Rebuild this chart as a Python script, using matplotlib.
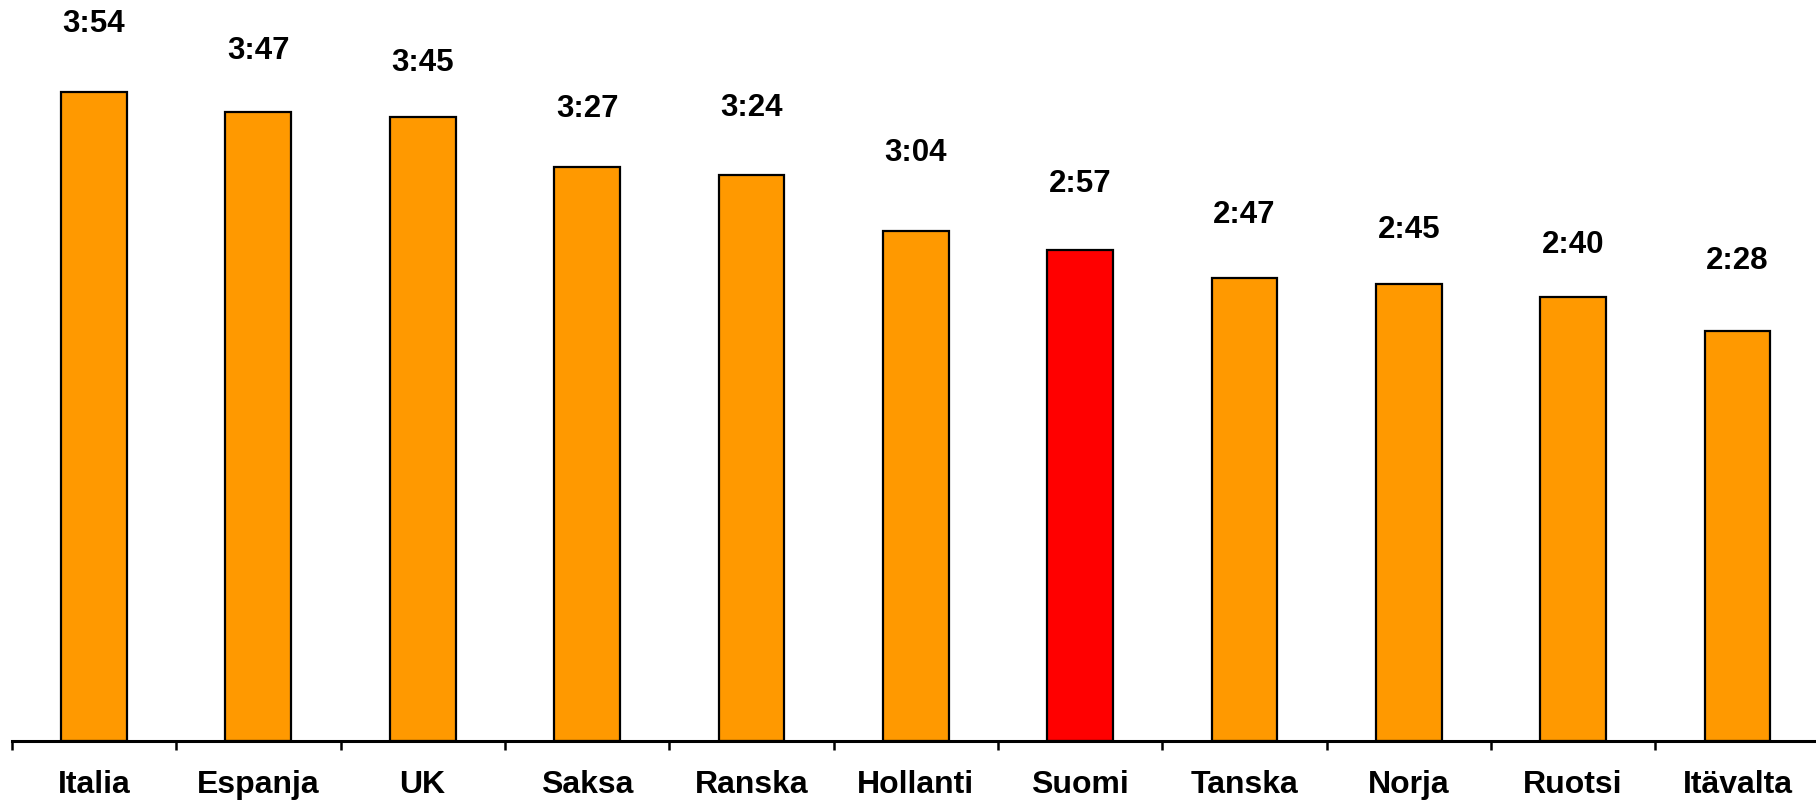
import numpy as np
import matplotlib
matplotlib.use("Agg")
import matplotlib.pyplot as plt

countries = ["Italia", "Espanja", "UK", "Saksa", "Ranska", "Hollanti",
             "Suomi", "Tanska", "Norja", "Ruotsi", "Itävalta"]
# viewing time per day, minutes
minutes = [234, 227, 225, 207, 204, 184, 177, 167, 165, 160, 148]
highlight = "Suomi"

# gap between bar top and value label (pixels), as placed in the original
label_gap_px = [68, 61, 54, 58, 67, 78, 66, 63, 54, 52, 70]

plt.rcParams["font.family"] = ["Liberation Sans", "DejaVu Sans"]

fig = plt.figure(figsize=(18.16, 8.0), dpi=100)
ax = fig.add_axes([0.0065, 0.07375, 0.9955, 0.92625])

x = np.arange(len(countries))
colors = ["#FF0000" if c == highlight else "#FF9900" for c in countries]
ax.bar(x, minutes, width=0.40, color=colors, edgecolor="black", linewidth=1.6)

for i, m in enumerate(minutes):
    ax.annotate(f"{m // 60}:{m % 60:02d}", (x[i], m),
                xytext=(0, label_gap_px[i] * 0.72), textcoords="offset points",
                ha="center", va="center", fontsize=22.5, fontweight="bold")

ax.set_xlim(-0.5, len(countries) - 0.5)
ax.set_ylim(0, 267.3)

for s in ["top", "right", "left"]:
    ax.spines[s].set_visible(False)
ax.spines["bottom"].set_linewidth(2.2)
ax.spines["bottom"].set_clip_on(False)

ax.set_yticks([])
ax.set_xticks(x)
ax.set_xticklabels(countries, fontsize=23, fontweight="bold")
ax.tick_params(axis="x", which="major", length=0, pad=21)
ax.set_xticks(np.arange(-0.5, len(countries)), minor=True)
ax.tick_params(axis="x", which="minor", length=6.5, width=1.8, direction="out")

fig.savefig("out.png", dpi=100, facecolor="white")
